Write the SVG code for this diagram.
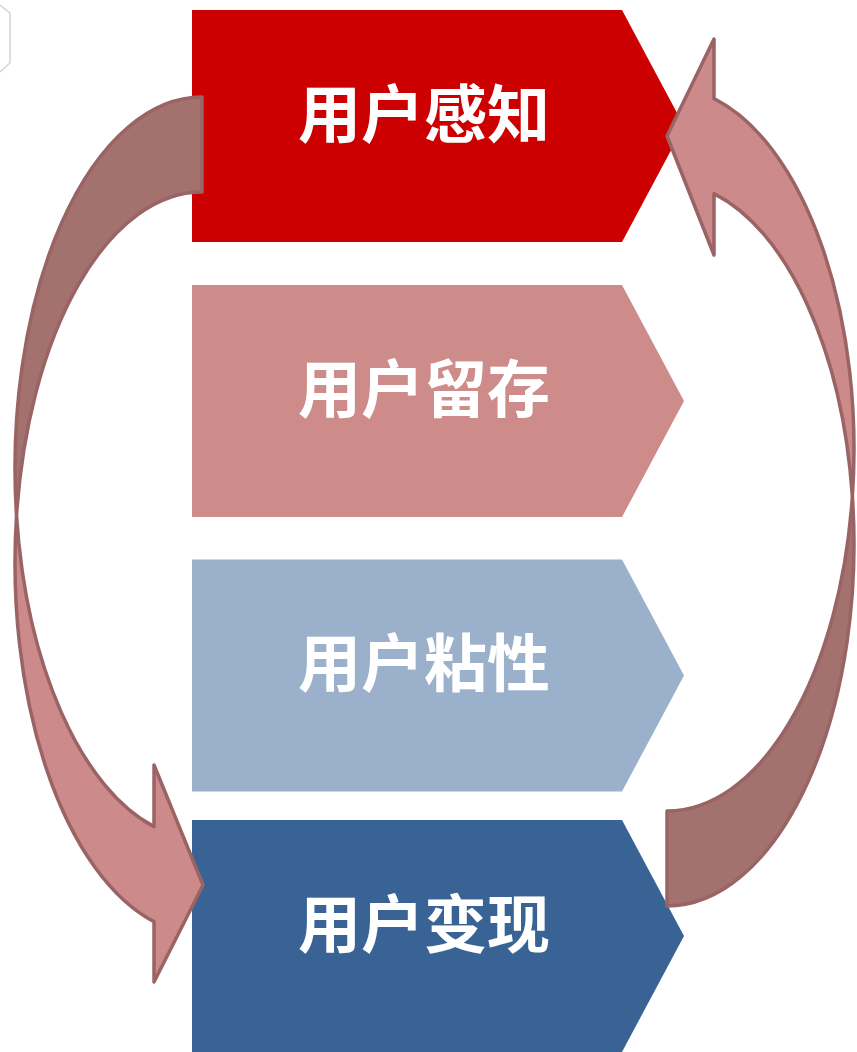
<svg xmlns="http://www.w3.org/2000/svg" width="857" height="1052" viewBox="0 0 857 1052">
  <style>
    .lbl { font-family: "Noto Sans CJK SC", "Noto Sans", sans-serif; font-weight: bold; font-size: 63px; fill: #FFFFFF; text-anchor: middle; }
    .back { fill: #A3716E; stroke: #9A6465; stroke-width: 3.5; stroke-linejoin: round; }
    .front { fill: #CD8A8A; stroke: #9A6465; stroke-width: 3.5; stroke-linejoin: round; }
  </style>
  <rect width="857" height="1052" fill="#FFFFFF"/>
  <polyline points="0,5 10,13 10,63 0,72" fill="none" stroke="#D4D4D4" stroke-width="1.5"/>

  <g id="node-perception">
    <polygon points="192,10 622,10 684,126 622,242 192,242" fill="#CC0000"/>
    <text class="lbl" x="424" y="137">用户感知</text>
  </g>
  <g id="node-retention">
    <polygon points="192,285 622,285 684,401 622,517 192,517" fill="#CD8B8A"/>
    <text class="lbl" x="424" y="412">用户留存</text>
  </g>
  <g id="node-stickiness">
    <polygon points="192,559.5 622,559.5 684,675.5 622,791.5 192,791.5" fill="#9BB0CA"/>
    <text class="lbl" x="424" y="686">用户粘性</text>
  </g>
  <g id="node-monetization">
    <polygon points="192,820 622,820 684,936 622,1052 192,1052" fill="#386394"/>
    <text class="lbl" x="424" y="947">用户变现</text>
  </g>

  <g id="connectors">
    <g id="arrow-left">
      <path class="back" d="M202,97 A187,371 0 0 0 16.54,515.5 A187,371 0 0 1 202,192 Z"/>
      <path class="front" d="M16.54,515.5 A187,371 0 0 0 154,826.6 L154,765 L203,885 L154,982 L154,921.6 A187,371 0 0 1 16.54,515.5 Z"/>
    </g>
    <g id="arrow-right">
      <path class="back" d="M667,906 A187,362 0 0 0 852.38,496.5 A187,362 0 0 1 667,811 Z"/>
      <path class="front" d="M852.38,496.5 A187,362 0 0 0 714,98.6 L714,39 L667,136 L714,255 L714,193.6 A187,362 0 0 1 852.38,496.5 Z"/>
    </g>
  </g>
</svg>
